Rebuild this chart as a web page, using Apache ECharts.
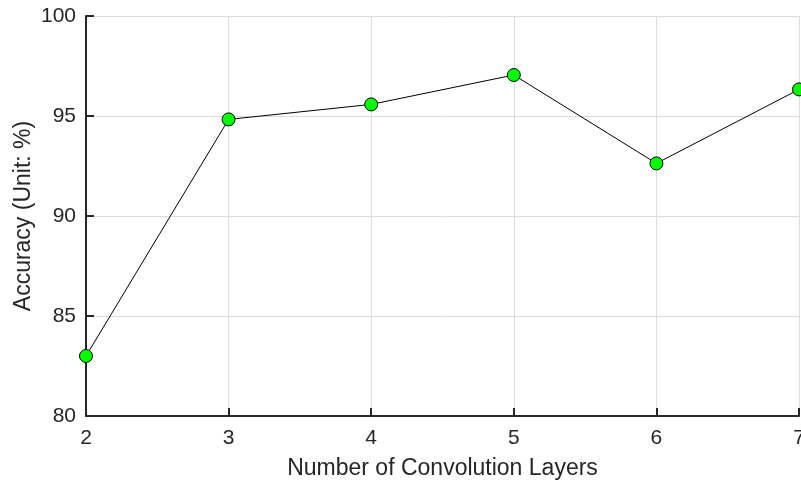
<!DOCTYPE html>
<html>
<head>
<meta charset="utf-8">
<script src="https://cdn.jsdelivr.net/npm/echarts@6/dist/echarts.min.js"></script>
<style>html,body{margin:0;padding:0;background:#fff}#c{width:801px;height:486px}</style>
</head>
<body>
<div id="c"></div>
<script>
const layers = [2, 3, 4, 5, 6, 7];
const accuracy = [83.0, 94.83, 95.58, 97.05, 92.63, 96.33];
const yTicks = [80, 85, 90, 95, 100];

const chart = echarts.init(document.getElementById('c'), null, {renderer: 'canvas'});
const font = 'Liberation Sans, Arial, Helvetica, sans-serif';
chart.setOption({
  animation: false,
  backgroundColor: '#fff',
  grid: {left: 86, right: 2, top: 16, bottom: 70, containLabel: false, outerBoundsMode: 'none'},
  xAxis: {
    type: 'value', min: 2, max: 7, interval: 1,
    name: 'Number of Convolution Layers', nameLocation: 'middle', nameGap: 41,
    nameMoveOverlap: false,
    nameTextStyle: {color: '#262626', fontSize: 23, fontFamily: font},
    axisLine: {show: true, onZero: false, lineStyle: {color: '#262626', width: 2}},
    axisTick: {show: true, inside: true, length: 8, lineStyle: {color: '#262626', width: 2}},
    axisLabel: {color: '#262626', fontSize: 21, fontFamily: font, margin: 12},
    splitLine: {show: true, lineStyle: {color: '#dcdcdc', width: 1}}
  },
  yAxis: {
    type: 'value', min: 80, max: 100, interval: 5,
    name: 'Accuracy (Unit: %)', nameLocation: 'middle', nameGap: 51, nameRotate: 90,
    nameMoveOverlap: false,
    nameTextStyle: {color: '#262626', fontSize: 23, fontFamily: font},
    axisLine: {show: true, lineStyle: {color: '#262626', width: 2}},
    axisTick: {show: true, inside: true, length: 8, lineStyle: {color: '#262626', width: 2}},
    axisLabel: {color: '#262626', fontSize: 21, fontFamily: font, margin: 10,
      formatter: v => yTicks.includes(v) ? String(v) : ''},
    splitLine: {show: true, lineStyle: {color: '#dcdcdc', width: 1}}
  },
  series: [{
    type: 'line',
    data: layers.map((x, i) => [x, accuracy[i]]),
    clip: false,
    symbol: 'circle', symbolSize: 13,
    lineStyle: {color: '#000', width: 1},
    itemStyle: {color: '#00ff00', borderColor: '#000', borderWidth: 1},
    z: 5
  }]
});
</script>
</body>
</html>
